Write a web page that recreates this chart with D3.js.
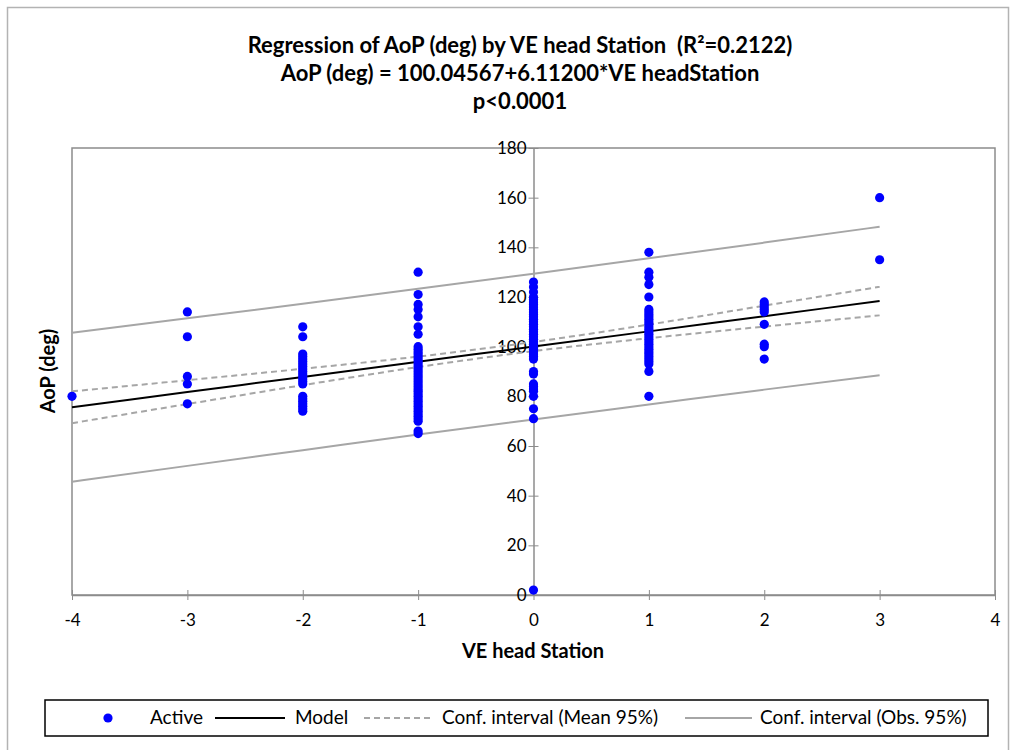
<!DOCTYPE html>
<html><head><meta charset="utf-8">
<script src="https://cdn.jsdelivr.net/npm/d3@7"></script>
<style>
html,body{margin:0;padding:0;background:#fff;}
text{font-family:Lato,"Open Sans",sans-serif;white-space:pre;}
</style></head>
<body><svg id="chart" width="1016" height="750"></svg>
<script>
// ---- data ----
const stations = [-4, -3, -2, -1, 0, 1, 2, 3];
const aopAtM4 = [80];
const aopAtM3 = [114, 104, 88, 85, 77];
const aopAtM2 = [108, 104, 97, 96, 95, 94, 93, 92, 91, 90, 89, 88, 87, 86, 85, 80, 79, 78, 77, 76, 75, 74];
const aopAtM1 = [130, 121, 117, 115, 112, 108, 105, 100, 99, 98, 97, 96, 95, 94, 93, 92, 91, 90, 89, 88, 87, 86, 85, 84, 83, 82, 81, 80, 79, 78, 77, 76, 75, 74, 73, 72, 71, 70, 66, 65];
const aopAt0 = [126, 124, 122, 120, 119, 118, 117, 116, 115, 114, 113, 112, 111, 110, 109, 108, 107, 106, 105, 104, 103, 102, 101, 100, 99, 98, 97, 96, 95, 90, 89, 85, 84, 83, 82, 80, 75, 71, 2];
const aopAtP1 = [138, 130, 128, 125, 120, 115, 114, 113, 112, 111, 110, 109, 108, 107, 106, 105, 104, 103, 102, 101, 100, 99, 98, 97, 96, 95, 94, 93, 90, 80];
const aopAtP2 = [118, 117, 116, 115, 114, 109, 101, 100, 95];
const aopAtP3 = [160, 135];
const modelValues = [75.60, 81.71, 87.82, 93.93, 100.05, 106.16, 112.27, 118.38];
const meanUpper = [82.0, 86.5, 91.1, 96.0, 101.9, 108.9, 116.5, 124.1];
const meanLower = [69.2, 76.9, 84.5, 91.8, 98.2, 103.4, 108.1, 112.6];
const obsUpper = [105.6, 111.4, 117.3, 123.3, 129.4, 135.6, 141.9, 148.3];
const obsLower = [45.6, 52.0, 58.3, 64.6, 70.7, 76.7, 82.7, 88.5];
const xTicks = [-4, -3, -2, -1, 0, 1, 2, 3, 4];
const yTicks = [0, 20, 40, 60, 80, 100, 120, 140, 160, 180];
const titleLines = ["Regression of AoP (deg) by VE head Station  (R\u00B2=0.2122)", "AoP (deg) = 100.04567+6.11200*VE headStation", "p<0.0001"];
const legendLabels = ["Active", "Model", "Conf. interval (Mean 95%)", "Conf. interval (Obs. 95%)"];

const groups = [aopAtM4, aopAtM3, aopAtM2, aopAtM1, aopAt0, aopAtP1, aopAtP2, aopAtP3];
const points = [];
groups.forEach((g, i) => g.forEach(v => points.push({x: stations[i], y: v})));

const svg = d3.select("#chart");
// outer border
svg.append("rect").attr("x", 7.5).attr("y", 7.5).attr("width", 1001).attr("height", 760)
  .attr("fill", "#fff").attr("stroke", "#b3b3b3").attr("stroke-width", 1.5);

const L = 72, R = 995, T = 148, B = 595;
const x = d3.scaleLinear().domain([-4, 4]).range([L, R]);
const y = d3.scaleLinear().domain([0, 180]).range([B, T]);
const plain = d => String(d);

// plot frame
svg.append("rect").attr("x", L).attr("y", T).attr("width", R - L).attr("height", B - T)
  .attr("fill", "none").attr("stroke", "#8c8c8c").attr("stroke-width", 1.5);

// x axis at y=0
const xAxis = svg.append("g").attr("transform", `translate(0,${y(0)})`)
  .call(d3.axisBottom(x).tickValues(xTicks).tickFormat(plain).tickSize(5).tickSizeOuter(0));
xAxis.select(".domain").attr("stroke", "#8c8c8c").attr("stroke-width", 1.5);
xAxis.selectAll(".tick line").attr("stroke", "#8c8c8c").attr("y1", -5).attr("y2", 5);
xAxis.selectAll(".tick text").attr("y", 19).attr("font-size", 17).attr("fill", "#000")
  .style("font-family", "Lato, sans-serif");

// y axis at x=0
const yAxis = svg.append("g").attr("transform", `translate(${x(0)},0)`)
  .call(d3.axisLeft(y).tickValues(yTicks).tickFormat(plain).tickSize(5).tickSizeOuter(0));
yAxis.select(".domain").attr("stroke", "#8c8c8c").attr("stroke-width", 1.5);
yAxis.selectAll(".tick line").attr("stroke", "#8c8c8c").attr("x1", -5).attr("x2", 5);
yAxis.selectAll(".tick text").attr("x", -7).attr("font-size", 17).attr("fill", "#000")
  .style("font-family", "Lato, sans-serif");

// lines
const lineData = arr => arr.map((v, i) => [stations[i], v]);
const line = d3.line().x(d => x(d[0])).y(d => y(d[1])).curve(d3.curveMonotoneX);
const grey = "#a6a6a6";
[obsUpper, obsLower].forEach(a => svg.append("path").attr("d", line(lineData(a)))
  .attr("fill", "none").attr("stroke", grey).attr("stroke-width", 2));
[meanUpper, meanLower].forEach(a => svg.append("path").attr("d", line(lineData(a)))
  .attr("fill", "none").attr("stroke", grey).attr("stroke-width", 2).attr("stroke-dasharray", "6,4"));
svg.append("path").attr("d", line(lineData(modelValues)))
  .attr("fill", "none").attr("stroke", "#000").attr("stroke-width", 2);

// points
svg.append("g").selectAll("circle").data(points).join("circle")
  .attr("cx", d => x(d.x)).attr("cy", d => y(d.y)).attr("r", 4.6).attr("fill", "#0000ff");

// titles
svg.append("g").selectAll("text").data(titleLines).join("text")
  .attr("x", 520).attr("y", (d, i) => 53 + i * 28).attr("text-anchor", "middle")
  .attr("font-size", 22).attr("font-weight", "bold").text(d => d);

svg.append("text").attr("transform", "translate(55,371) rotate(-90)").attr("text-anchor", "middle")
  .attr("font-size", 20).attr("font-weight", "bold").text("AoP (deg)");
svg.append("text").attr("x", 533).attr("y", 658).attr("text-anchor", "middle")
  .attr("font-size", 20).attr("font-weight", "bold").text("VE head Station");

// legend
const lg = svg.append("g");
lg.append("rect").attr("x", 45).attr("y", 700).attr("width", 943).attr("height", 36)
  .attr("fill", "#fff").attr("stroke", "#000").attr("stroke-width", 1.5);
const ly = 718;
lg.append("circle").attr("cx", 108).attr("cy", ly).attr("r", 4.6).attr("fill", "#0000ff");
lg.append("line").attr("x1", 215).attr("x2", 285).attr("y1", ly).attr("y2", ly).attr("stroke", "#000").attr("stroke-width", 2);
lg.append("line").attr("x1", 364).attr("x2", 432).attr("y1", ly).attr("y2", ly).attr("stroke", grey).attr("stroke-width", 2).attr("stroke-dasharray", "6,4");
lg.append("line").attr("x1", 685).attr("x2", 752).attr("y1", ly).attr("y2", ly).attr("stroke", grey).attr("stroke-width", 2);
const lx = [150, 295, 442, 760];
lg.selectAll("text.lab").data(legendLabels).join("text").attr("class", "lab")
  .attr("x", (d, i) => lx[i]).attr("y", ly + 6).attr("font-size", 19).text(d => d);
</script></body></html>
